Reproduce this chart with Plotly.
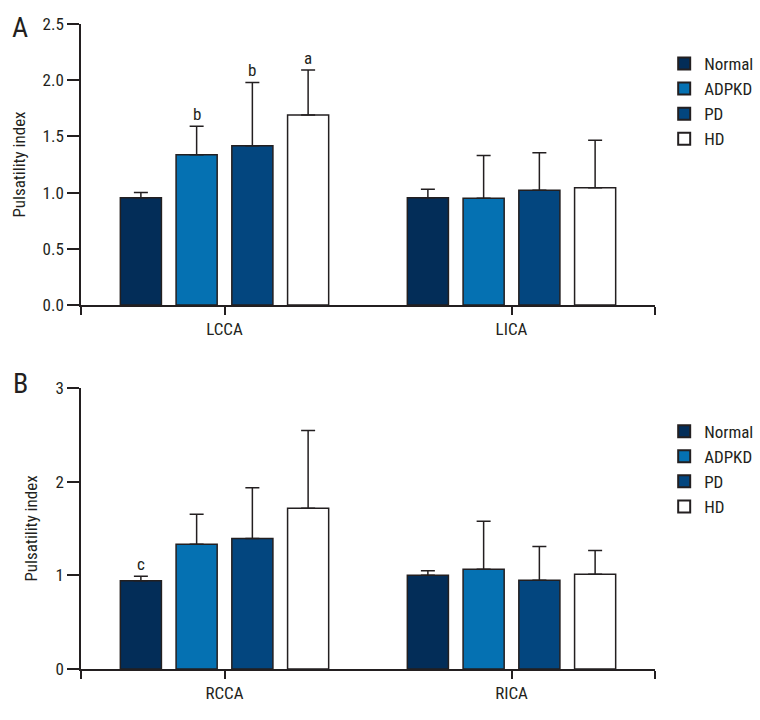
import plotly.graph_objects as go

groups = ["Normal", "ADPKD", "PD", "HD"]
colors = ["#032d58", "#0571b2", "#03467f", "#ffffff"]

top_categories = ["LCCA", "LICA"]
top_means = {
    "Normal": [0.955, 0.955],
    "ADPKD": [1.337, 0.95],
    "PD": [1.417, 1.02],
    "HD": [1.69, 1.044],
}
top_sd = {
    "Normal": [0.045, 0.075],
    "ADPKD": [0.253, 0.38],
    "PD": [0.563, 0.335],
    "HD": [0.40, 0.421],
}
top_sig = {
    "Normal": ["", ""],
    "ADPKD": ["b", ""],
    "PD": ["b", ""],
    "HD": ["a", ""],
}

bot_categories = ["RCCA", "RICA"]
bot_means = {
    "Normal": [0.943, 1.0],
    "ADPKD": [1.332, 1.065],
    "PD": [1.392, 0.948],
    "HD": [1.717, 1.012],
}
bot_sd = {
    "Normal": [0.047, 0.05],
    "ADPKD": [0.32, 0.513],
    "PD": [0.542, 0.359],
    "HD": [0.829, 0.252],
}
bot_sig = {
    "Normal": ["c", ""],
    "ADPKD": ["", ""],
    "PD": ["", ""],
    "HD": ["", ""],
}

FONT = "Roboto Condensed, Liberation Sans Narrow, DejaVu Sans Condensed, Roboto, sans-serif"
INK = "#231f20"

BARGAP = 0.223
GROUPGAP = 0.263
slot = (1 - BARGAP) / len(groups)

fig = go.Figure()
annotations = []

def add_panel(cats, means, sds, sig, xa, ya, legend):
    xs = list(range(len(cats)))
    for gi, g in enumerate(groups):
        fig.add_trace(go.Bar(
            x=xs, y=means[g], name=g,
            marker=dict(color=colors[gi], line=dict(color=INK, width=1.5)),
            error_y=dict(type="data", array=sds[g], symmetric=False,
                         arrayminus=[0] * len(xs), color=INK,
                         thickness=1.5, width=7),
            xaxis=xa, yaxis=ya, legend=legend,
        ))
        off = -(1 - BARGAP) / 2 + slot * (gi + 0.5)
        for ci, s in enumerate(sig[g]):
            if s:
                annotations.append(dict(
                    x=xs[ci] + off, y=means[g][ci] + sds[g][ci],
                    xref=xa, yref=ya, text=s, showarrow=False,
                    yanchor="bottom", yshift=0,
                    font=dict(family=FONT, size=17, color=INK)))

add_panel(top_categories, top_means, top_sd, top_sig, "x", "y", "legend")
add_panel(bot_categories, bot_means, bot_sd, bot_sig, "x2", "y2", "legend2")

axis_common = dict(showline=True, linecolor=INK, linewidth=1.5, ticks="outside",
                   tickcolor=INK, tickwidth=1.5, showgrid=False, zeroline=False,
                   tickfont=dict(family=FONT, size=17, color=INK))

xaxis_common = dict(axis_common, range=[-0.5, 1.5], ticklen=8,
                    tickvals=[-0.5, 0, 1, 1.5])

annotations += [
    dict(x=-0.106, y=0.994, xref="paper", yref="paper", text="A", showarrow=False,
         font=dict(family=FONT, size=28, color=INK), xanchor="center", yanchor="middle"),
    dict(x=-0.106, y=0.442, xref="paper", yref="paper", text="B", showarrow=False,
         font=dict(family=FONT, size=28, color=INK), xanchor="center", yanchor="middle"),
]

legend_common = dict(font=dict(family=FONT, size=17, color=INK), bgcolor="rgba(0,0,0,0)",
                     tracegroupgap=0, itemsizing="constant", xanchor="left", yanchor="top")

fig.update_layout(
    width=760, height=720,
    paper_bgcolor="white", plot_bgcolor="white",
    margin=dict(l=81, r=105, t=24, b=51, autoexpand=False),
    barmode="group", bargap=BARGAP, bargroupgap=GROUPGAP,
    font=dict(family=FONT, color=INK),
    xaxis=dict(xaxis_common, anchor="y", domain=[0, 1],
               ticktext=["", top_categories[0], top_categories[1], ""]),
    yaxis=dict(axis_common, anchor="x", domain=[0.5643, 1.0], range=[0, 2.5],
               tickvals=[0, 0.5, 1.0, 1.5, 2.0, 2.5], tickformat=".1f", ticklen=12,
               title=dict(text="Pulsatility index", standoff=13,
                          font=dict(family=FONT, size=17, color=INK))),
    xaxis2=dict(xaxis_common, anchor="y2", domain=[0, 1],
                ticktext=["", bot_categories[0], bot_categories[1], ""]),
    yaxis2=dict(axis_common, anchor="x2", domain=[0.0, 0.4357], range=[0, 3],
                tickvals=[0, 1, 2, 3], ticklen=12,
                title=dict(text="Pulsatility index", standoff=13,
                           font=dict(family=FONT, size=17, color=INK))),
    legend=dict(legend_common, x=1.016, y=0.966),
    legend2=dict(legend_common, x=1.016, y=0.396),
    annotations=annotations,
)

fig.write_html("out.html", config={"displayModeBar": False},
               post_script="document.body.style.margin='0';")
